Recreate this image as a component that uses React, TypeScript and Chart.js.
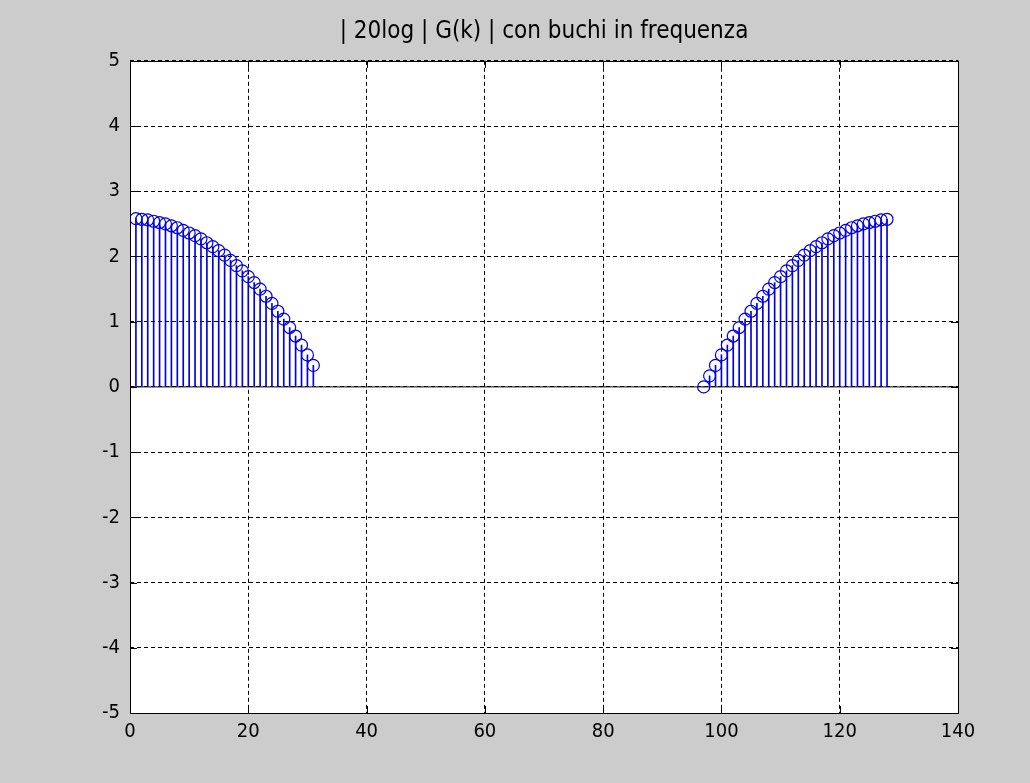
import { useEffect, useRef } from "react";
import { Chart, registerables } from "chart.js";

Chart.register(...registerables);

// Frequency bins kept on the low side of the spectrum and their gains (dB)
const leftFirstBin = 1;
const leftGainDb = [
  2.58, 2.57, 2.56, 2.54, 2.52, 2.5, 2.47, 2.44, 2.4, 2.36, 2.32, 2.27, 2.21, 2.15, 2.09, 2.02,
  1.94, 1.86, 1.78, 1.69, 1.6, 1.5, 1.39, 1.28, 1.16, 1.04, 0.91, 0.78, 0.64, 0.49, 0.33,
];

// Frequency bins kept on the high (mirrored) side and their gains (dB)
const rightFirstBin = 97;
const rightGainDb = [
  0.0, 0.17, 0.33, 0.49, 0.64, 0.78, 0.91, 1.04, 1.16, 1.28, 1.39, 1.5, 1.6, 1.69, 1.78, 1.86,
  1.94, 2.02, 2.09, 2.15, 2.21, 2.27, 2.32, 2.36, 2.4, 2.44, 2.47, 2.5, 2.52, 2.54, 2.56, 2.57,
];

const xTicks = [0, 20, 40, 60, 80, 100, 120, 140];
const yTicks = [-5, -4, -3, -2, -1, 0, 1, 2, 3, 4, 5];

const titleText = "| 20log | G(k) | con buchi in frequenza";

const FIGURE_BG = "rgb(204,204,204)";
const STEM_BLUE = "rgb(0,0,230)";
const FONT_FAMILY = "'Liberation Sans Narrow', 'DejaVu Sans Condensed', 'Liberation Sans', Arial, sans-serif";

const toPoints = (firstBin: number, values: number[]) =>
  values.map((y, i) => ({ x: firstBin + i, y }));

// Figure background, white axes area, solid frame and inward tick marks
const axesFrame = {
  id: "axesFrame",
  beforeDraw(chart: any) {
    const { ctx, chartArea } = chart;
    ctx.save();
    ctx.fillStyle = FIGURE_BG;
    ctx.fillRect(0, 0, chart.width, chart.height);
    ctx.fillStyle = "#ffffff";
    ctx.fillRect(chartArea.left, chartArea.top, chartArea.right - chartArea.left, chartArea.bottom - chartArea.top);
    ctx.restore();
  },
  afterDraw(chart: any) {
    const { ctx, chartArea, scales } = chart;
    const { left, right, top, bottom } = chartArea;
    const tickLen = 7;
    ctx.save();
    ctx.strokeStyle = "#000";
    ctx.lineWidth = 1;
    ctx.beginPath();
    for (const v of xTicks) {
      const px = Math.round(scales.x.getPixelForValue(v)) + 0.5;
      ctx.moveTo(px, bottom);
      ctx.lineTo(px, bottom - tickLen);
      ctx.moveTo(px, top);
      ctx.lineTo(px, top + tickLen);
    }
    for (const v of yTicks) {
      const py = Math.round(scales.y.getPixelForValue(v)) + 0.5;
      ctx.moveTo(left, py);
      ctx.lineTo(left + tickLen, py);
      ctx.moveTo(right, py);
      ctx.lineTo(right - tickLen, py);
    }
    ctx.stroke();
    ctx.strokeRect(Math.round(left) + 0.5, Math.round(top) + 0.5, Math.round(right - left), Math.round(bottom - top));
    ctx.restore();
  },
};

export default function App() {
  const canvasRef = useRef<HTMLCanvasElement | null>(null);

  useEffect(() => {
    const canvas = canvasRef.current;
    if (!canvas) return;

    const leftPts = toPoints(leftFirstBin, leftGainDb);
    const rightPts = toPoints(rightFirstBin, rightGainDb);
    const allPts = [...leftPts, ...rightPts];

    const chart = new Chart(canvas, {
      type: "bar",
      data: {
        datasets: [
          {
            type: "line",
            label: "baseline",
            data: [
              { x: xTicks[0], y: 0 },
              { x: xTicks[xTicks.length - 1], y: 0 },
            ],
            borderColor: "#000",
            borderWidth: 1,
            pointRadius: 0,
            order: 3,
          } as any,
          {
            type: "bar",
            label: "stems",
            data: allPts,
            backgroundColor: STEM_BLUE,
            borderWidth: 0,
            barThickness: 1,
            order: 2,
          } as any,
          {
            type: "line",
            label: "markers",
            data: allPts,
            showLine: false,
            pointStyle: "circle",
            pointRadius: 6,
            pointBorderWidth: 1.2,
            pointBorderColor: STEM_BLUE,
            pointBackgroundColor: "rgba(0,0,0,0)",
            order: 1,
          } as any,
        ],
      },
      options: {
        responsive: false,
        animation: false,
        devicePixelRatio: 1,
        layout: { padding: { left: 65, right: 7, top: 0, bottom: 0 } },
        plugins: {
          legend: { display: false },
          tooltip: { enabled: false },
          title: {
            display: true,
            text: titleText,
            color: "#000",
            font: { family: FONT_FAMILY, size: 24, weight: "normal", lineHeight: 1.2 },
            padding: { top: 17, bottom: 15 },
          },
        },
        scales: {
          x: {
            type: "linear",
            min: xTicks[0],
            max: xTicks[xTicks.length - 1],
            offset: false,
            afterFit: (scale: any) => {
              scale.height = 70;
            },
            afterBuildTicks: (scale: any) => {
              scale.ticks = xTicks.map((v) => ({ value: v }));
            },
            ticks: {
              color: "#000",
              padding: 7,
              maxRotation: 0,
              font: { family: FONT_FAMILY, size: 20 },
            },
            grid: { color: "#000", lineWidth: 1, drawTicks: false, offset: false },
            border: { display: false, dash: [4, 3] },
          },
          y: {
            type: "linear",
            position: "left",
            min: yTicks[0],
            max: yTicks[yTicks.length - 1],
            afterFit: (scale: any) => {
              scale.width = 65;
            },
            afterBuildTicks: (scale: any) => {
              scale.ticks = yTicks.map((v) => ({ value: v }));
            },
            ticks: {
              color: "#000",
              padding: 10,
              font: { family: FONT_FAMILY, size: 20 },
            },
            grid: { color: "#000", lineWidth: 1, drawTicks: false },
            border: { display: false, dash: [4, 3] },
          },
          yRight: {
            type: "linear",
            position: "right",
            min: yTicks[0],
            max: yTicks[yTicks.length - 1],
            afterFit: (scale: any) => {
              scale.width = 65;
            },
            ticks: { display: false },
            grid: { display: false, drawTicks: false },
            border: { display: false },
          },
        },
      } as any,
      plugins: [axesFrame],
    });

    return () => chart.destroy();
  }, []);

  return (
    <div style={{ position: "fixed", left: 0, top: 0, width: 1030, height: 783, background: FIGURE_BG }}>
      <canvas ref={canvasRef} width={1030} height={783} style={{ display: "block" }} />
    </div>
  );
}
